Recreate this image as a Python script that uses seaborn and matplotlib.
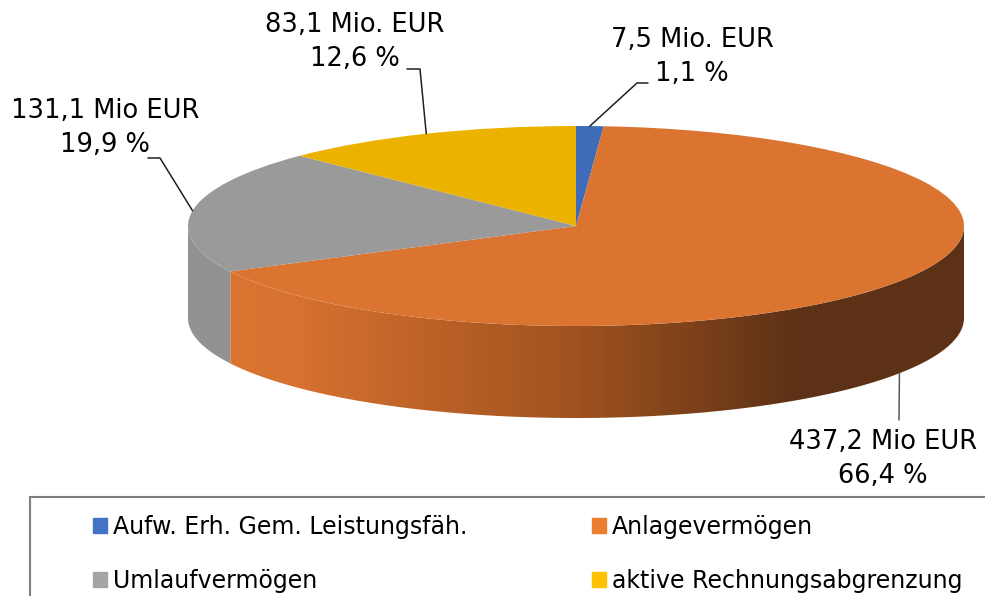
import numpy as np
import matplotlib
matplotlib.use('Agg')
import matplotlib.pyplot as plt
from matplotlib.colors import LinearSegmentedColormap
from matplotlib.patches import Polygon, Rectangle
import seaborn as sns

sns.set_theme(style="white")
plt.rcParams['font.family'] = ['DejaVu Sans']

# data
categories = ['Aufw. Erh. Gem. Leistungsfäh.', 'Anlagevermögen',
              'Umlaufvermögen', 'aktive Rechnungsabgrenzung']
amounts = [7.5, 437.2, 131.1, 83.1]          # Mio EUR
amount_text = ['7,5 Mio. EUR', '437,2 Mio EUR', '131,1 Mio EUR', '83,1 Mio. EUR']
share_text = ['1,1 %', '66,4 %', '19,9 %', '12,6 %']

legend_colors = ['#4472C4', '#ED7D31', '#A5A5A5', '#FFC000']
top_colors = ['#3F6CB9', '#DA7430', '#9A9A9A', '#EBB300']

# pie geometry in pixels (ellipse of the top face)
cx, cy, rx, ry, depth = 576, 226, 388, 100, 92
W, H = 985, 596


def to_data(px, py):
    return (px - cx) / rx, (cy - py) / ry


fig = plt.figure(figsize=(W / 100, H / 100), dpi=100)
ax = fig.add_axes([0, 0, 1, 1])

# top face
wedges, _ = ax.pie(amounts, colors=top_colors, startangle=90, counterclock=False,
                   radius=1, center=(0, 0), wedgeprops=dict(linewidth=0))
for w in wedges:
    w.set_zorder(3)

ax.set_aspect('auto')
ax.set_xlim((0 - cx) / rx, (W - cx) / rx)
ax.set_ylim((cy - H) / ry, (cy - 0) / ry)
ax.axis('off')

# slice angles (clockwise from 12 o'clock)
total = sum(amounts)
cum = np.cumsum([0] + amounts)
a_start = 90 - 360 * cum[:-1] / total
a_end = 90 - 360 * cum[1:] / total
mid = (a_start + a_end) / 2

d = depth / ry
side_cmap = LinearSegmentedColormap.from_list('side', [
    (0.0, '#DB7530'), (0.13, '#D87230'), (0.5, '#A0521F'),
    (0.78, '#5E3216'), (1.0, '#5C3116')])

# visible side wall (front half of the disc)
for i in range(len(amounts)):
    lo, hi = max(a_end[i], -180), min(a_start[i], 0)
    if lo >= hi:
        continue
    t = np.radians(np.linspace(lo, hi, 300))
    x = np.cos(t)
    y = np.sin(t)
    pts = np.column_stack([np.concatenate([x, x[::-1]]),
                           np.concatenate([y, (y - d)[::-1]])])
    poly = Polygon(pts, closed=True, facecolor='#929292' if i != 1 else 'none',
                   edgecolor='none', zorder=2)
    ax.add_patch(poly)
    if i == 1:
        grad = np.linspace(0, 1, 512).reshape(1, -1)
        im = ax.imshow(grad, cmap=side_cmap, aspect='auto',
                       extent=[-1, 1, -1 - d, 0.05], zorder=2)
        im.set_clip_path(poly)

# data labels with leader lines
label_pos = [(692, 57), (883, 459), (105, 128), (355, 42)]
elbows = [[(637, 83), (648, 83)], [(899, 420)],
          [(160, 158), (148, 158)], [(420, 69), (407, 69)]]
for i in range(len(amounts)):
    t = np.radians(mid[i])
    ax_x, ax_y = np.cos(t), np.sin(t)
    if ax_y < 0:
        ax_y -= d
    xs = [ax_x] + [to_data(*p)[0] for p in elbows[i]]
    ys = [ax_y] + [to_data(*p)[1] for p in elbows[i]]
    ax.plot(xs, ys, color='#202020' if i != 1 else '#595959', lw=1.1, zorder=4)
    lx, ly = to_data(*label_pos[i])
    ax.text(lx, ly, amount_text[i] + '\n' + share_text[i], ha='center', va='center',
            fontsize=18.5, linespacing=1.43, color='black', zorder=5)

# legend box (runs off the right and bottom edge)
fig.patches.append(Rectangle((30 / W, -0.1), 1.0, (H - 497) / H + 0.1,
                             transform=fig.transFigure, facecolor='none',
                             edgecolor='#7F7F7F', lw=1.5))
order = [0, 2, 1, 3]
handles = [Rectangle((0, 0), 1, 1, color=legend_colors[k]) for k in order]
leg = fig.legend(handles, [categories[k] for k in order], loc='upper left',
                 bbox_to_anchor=(93 / W, 1 - 515 / H), ncol=2, frameon=False,
                 fontsize=17, handlelength=0.6, handleheight=0.6, handletextpad=0.25,
                 columnspacing=5.26, labelspacing=1.27, borderpad=0, borderaxespad=0)
for txt in leg.get_texts():
    txt.set_color('black')

fig.savefig('out.png', dpi=100)
